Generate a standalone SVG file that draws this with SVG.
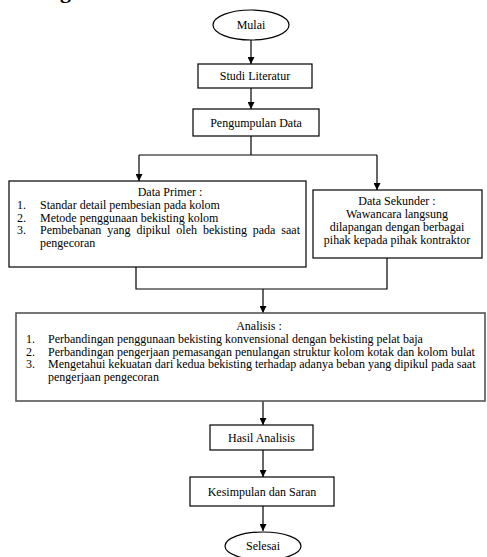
<svg xmlns="http://www.w3.org/2000/svg" width="487" height="557" viewBox="0 0 487 557">
<defs>
<marker id="ah" markerUnits="userSpaceOnUse" markerWidth="8" markerHeight="7" refX="7" refY="3.5" orient="auto">
<path d="M0,0 L7,3.5 L0,7 z" fill="#000"/>
</marker>
<style>
text{font-family:"Liberation Serif","Times New Roman",serif;font-size:12px;fill:#000}
.c{text-anchor:middle}
.box{fill:#fff;stroke:#000;stroke-width:1.2}
.box2{fill:#fff;stroke:#555;stroke-width:1.6}
.ln{fill:none;stroke:#000;stroke-width:1.2}
.ar{fill:none;stroke:#000;stroke-width:1.2;marker-end:url(#ah)}
</style>
</defs>
<rect width="487" height="557" fill="#fff"/>
<text x="60" y="-2" style="font-size:22px;font-weight:bold">g</text>

<g id="connectors">
<line class="ar" x1="251" y1="40" x2="251" y2="64"/>
<line class="ar" x1="251" y1="88" x2="251" y2="109"/>
<polyline class="ln" points="251,136 251,155"/>
<polyline class="ln" points="139,155 377,155"/>
<line class="ar" x1="139" y1="155" x2="139" y2="181"/>
<line class="ar" x1="377" y1="155" x2="377" y2="190"/>
<polyline class="ln" points="136,267 136,289 387,289 387,258"/>
<line class="ar" x1="263" y1="289" x2="263" y2="313"/>
<line class="ar" x1="263" y1="401" x2="263" y2="425"/>
<line class="ar" x1="263" y1="450" x2="263" y2="477"/>
<line class="ar" x1="263" y1="506" x2="263" y2="531"/>
</g>

<g id="mulai">
<ellipse class="box" cx="251" cy="25" rx="38" ry="15"/>
<text class="c" x="251" y="29">Mulai</text>
</g>

<g id="studi">
<rect class="box" x="198" y="64" width="114" height="24"/>
<text class="c" x="255" y="80">Studi Literatur</text>
</g>

<g id="pengumpulan">
<rect class="box" x="193" y="109" width="126" height="27"/>
<text class="c" x="256" y="127">Pengumpulan Data</text>
</g>

<g id="primer">
<rect class="box" x="9" y="181" width="297" height="86"/>
<text class="c" x="170" y="196">Data Primer :</text>
<text x="17" y="209">1.</text><text x="40" y="209">Standar detail pembesian pada kolom</text>
<text x="17" y="221.5">2.</text><text x="40" y="221.5">Metode penggunaan bekisting kolom</text>
<text x="17" y="234">3.</text><text x="40" y="234" word-spacing="2.9">Pembebanan yang dipikul oleh bekisting pada saat</text>
<text x="40" y="246.5">pengecoran</text>
</g>

<g id="sekunder">
<rect class="box" x="313" y="190" width="169" height="68"/>
<text class="c" x="397" y="205">Data Sekunder :</text>
<text class="c" x="397" y="218">Wawancara langsung</text>
<text class="c" x="397" y="231">dilapangan dengan berbagai</text>
<text class="c" x="397" y="244">pihak kepada pihak kontraktor</text>
</g>

<g id="analisis">
<rect class="box2" x="16" y="313" width="469" height="88"/>
<text class="c" x="259" y="330">Analisis :</text>
<text x="26" y="343">1.</text><text x="48" y="343">Perbandingan penggunaan bekisting konvensional dengan bekisting pelat baja</text>
<text x="26" y="355.5">2.</text><text x="48" y="355.5">Perbandingan pengerjaan pemasangan penulangan struktur kolom kotak dan kolom bulat</text>
<text x="26" y="368">3.</text><text x="48" y="368">Mengetahui kekuatan dari kedua bekisting terhadap adanya beban yang dipikul pada saat</text>
<text x="48" y="380.5">pengerjaan pengecoran</text>
</g>

<g id="hasil">
<rect class="box" x="210" y="425" width="103" height="25"/>
<text class="c" x="261.5" y="442">Hasil Analisis</text>
</g>

<g id="kesimpulan">
<rect class="box" x="190" y="477" width="144" height="29"/>
<text class="c" x="262" y="496">Kesimpulan dan Saran</text>
</g>

<g id="selesai">
<ellipse class="box" cx="263" cy="546" rx="38" ry="14"/>
<text class="c" x="263" y="550">Selesai</text>
</g>
</svg>
